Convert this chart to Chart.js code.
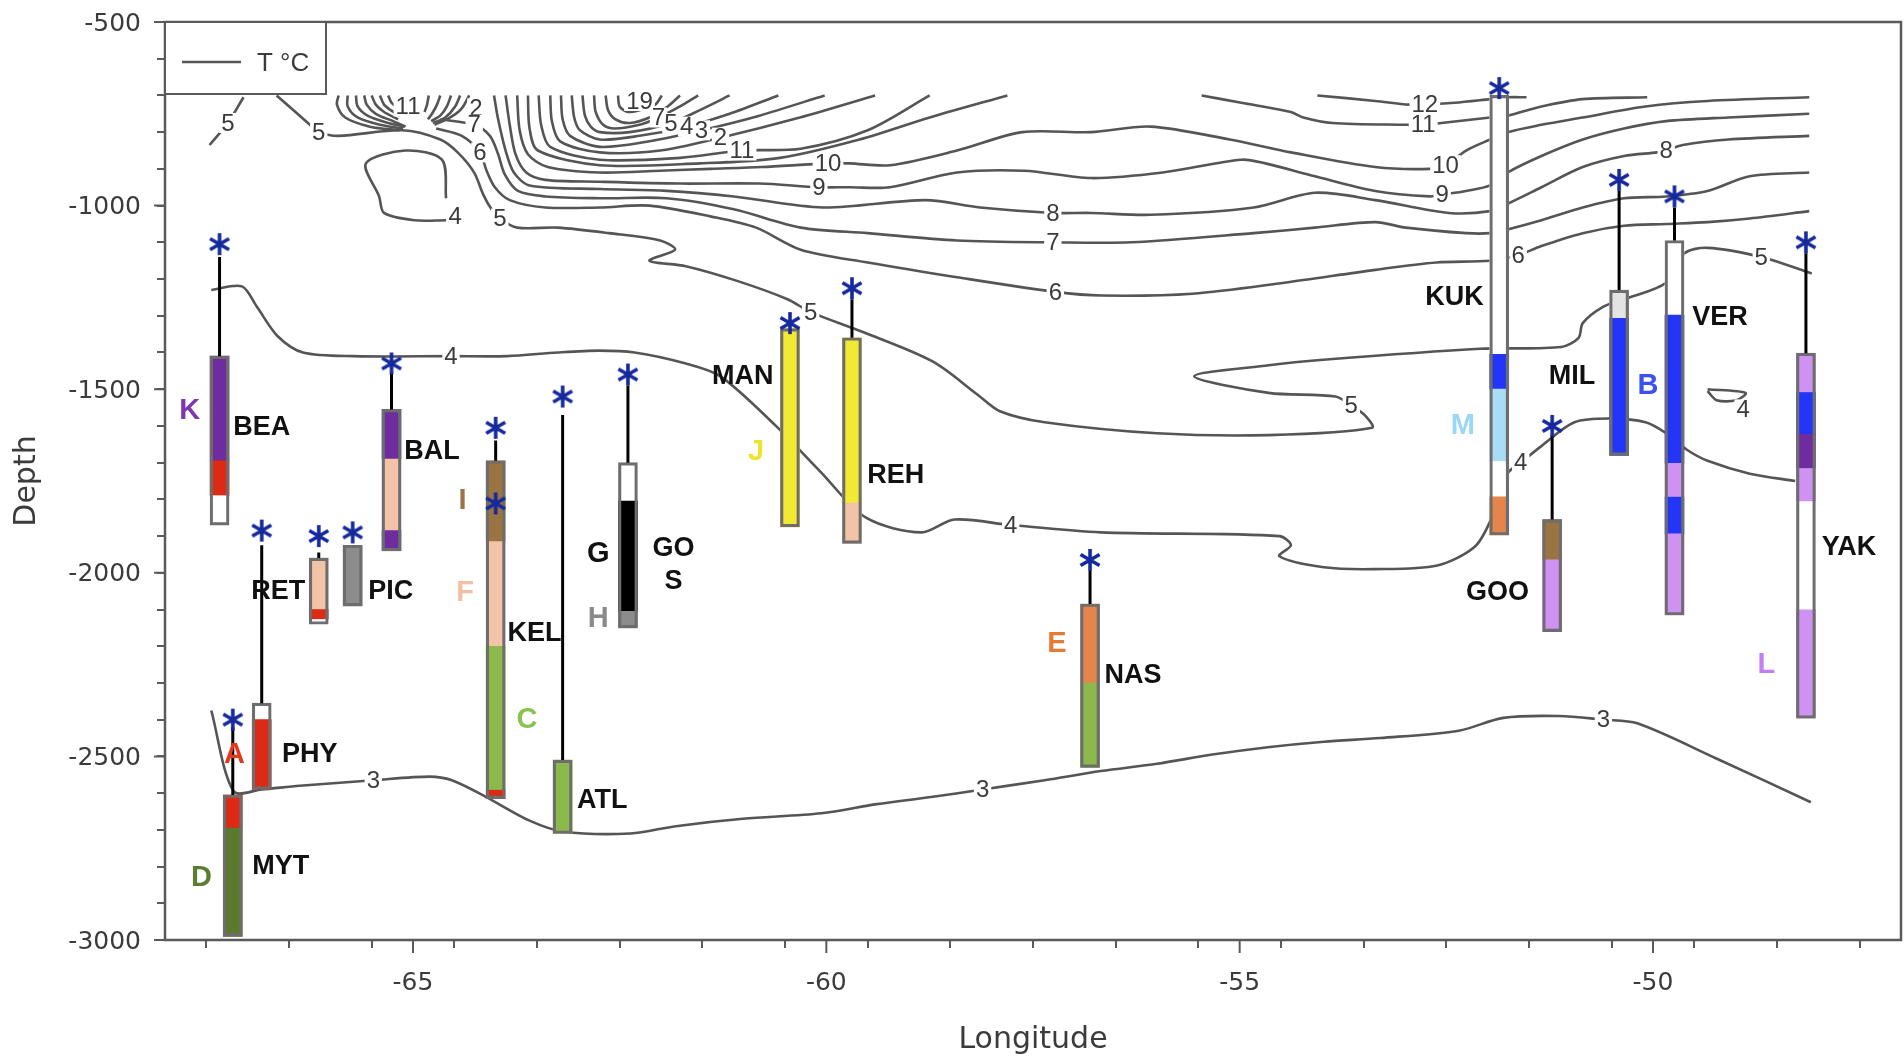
<!DOCTYPE html>
<html>
<head>
<meta charset="utf-8">
<title>Core sites on a temperature section</title>
<script src="https://cdn.jsdelivr.net/npm/chart.js@4.4.1/dist/chart.umd.min.js"></script>
<style>
  html, body { margin: 0; padding: 0; background: #fff; overflow: hidden; }
  #sectionChart { display: block; }
</style>
</head>
<body>
<canvas id="sectionChart" width="1904" height="1061"></canvas>
<script>
// ============================================================
// Temperature section (T °C contours) with core sites
// ============================================================

/* ── Axes ───────────────────────────────────────────────────*/
const LON_RANGE = [-68, -47];
const DEPTH_RANGE = [-3000, -500];
const LON_TICK_LABELS = [-65, -60, -55, -50];
const DEPTH_TICK_LABELS = [-500, -1000, -1500, -2000, -2500, -3000];

/* ── Cores ──────────────────────────────────────────────────*/
const CORE_NAMES = ["BEA", "MYT", "PHY", "RET", "PIC", "BAL", "KEL", "ATL", "GOS", "MAN", "REH", "NAS", "KUK", "GOO", "MIL", "VER", "YAK"];
const CORE_LON = [-67.34, -67.18, -66.83, -66.14, -65.73, -65.26, -64.00, -63.19, -62.40, -60.44, -59.69, -56.81, -51.86, -51.22, -50.41, -49.74, -48.15];
const CORE_STAR = [-1105, -2400, -1885, -1900, -1890, -1430, -1605, -1520, -1460, -1320, -1225, -1965, -680, -1600, -930, -975, -1100];
const CORE_STEM_TOP = [-1140, -2420, -1925, -1945, null, -1455, -1640, -1570, -1490, null, -1255, -1995, null, -1625, -960, -1005, -1130];
const EXTRA_STARS = [[-64.00, -1811]];

// [group, top depth, bottom depth]; group "0" = no assignment, "x" = light grey
const CORE_SEGMENTS = [
  [["K", -1410, -1695], ["A", -1695, -1790], ["0", -1790, -1870]],
  [["A", -2605, -2695], ["D", -2695, -2990]],
  [["0", -2355, -2400], ["A", -2400, -2590]],
  [["F", -1960, -2100], ["A", -2100, -2127], ["0", -2127, -2140]],
  [["H", -1925, -2090]],
  [["K", -1555, -1690], ["F", -1690, -1885], ["K", -1885, -1940]],
  [["I", -1695, -1915], ["F", -1915, -2200], ["C", -2200, -2592], ["A", -2592, -2615]],
  [["C", -2510, -2710]],
  [["0", -1700, -1805], ["G", -1805, -2105], ["H", -2105, -2150]],
  [["J", -1335, -1875]],
  [["J", -1360, -1810], ["F", -1810, -1920]],
  [["E", -2085, -2300], ["C", -2300, -2530]],
  [["0", -700, -1405], ["B", -1405, -1500], ["M", -1500, -1697], ["0", -1697, -1793], ["E", -1793, -1897]],
  [["I", -1855, -1965], ["L", -1965, -2160]],
  [["x", -1230, -1307], ["B", -1307, -1680]],
  [["0", -1095, -1298], ["B", -1298, -1702], ["L", -1702, -1794], ["B", -1794, -1894], ["L", -1894, -2115]],
  [["L", -1402, -1509], ["B", -1509, -1623], ["K", -1623, -1716], ["L", -1716, -1806], ["0", -1806, -2101], ["L", -2101, -2396]]
];

const CORE_LABEL_TEXT = ["BEA", "MYT", "PHY", "RET", "PIC", "BAL", "KEL", "ATL", "GO\nS", "MAN", "REH", "NAS", "KUK", "GOO", "MIL", "VER", "YAK"];
const CORE_LABEL_AT = [[-66.83, -1605], [-66.60, -2800], [-66.25, -2495], [-66.63, -2050], [-65.27, -2050], [-64.77, -1670], [-63.53, -2165], [-62.71, -2620], [-61.85, -1980], [-61.01, -1465], [-59.16, -1735], [-56.29, -2280], [-52.40, -1250], [-51.88, -2055], [-50.98, -1465], [-49.19, -1305], [-47.63, -1930]];

const GROUP_LABELS = [["K", -67.70, -1560], ["A", -67.16, -2495], ["D", -67.56, -2830], ["I", -64.40, -1805], ["F", -64.37, -2055], ["C", -63.62, -2400], ["G", -62.76, -1950], ["H", -62.76, -2125], ["J", -60.85, -1670], ["E", -57.21, -2195], ["M", -52.30, -1600], ["B", -50.06, -1490], ["L", -48.63, -2250]];

/* ── Temperature contours [lon, depth] ──────────────────────*/
const T3 = [[-67.44, -2375], [-67.17, -2595], [-66.83, -2590], [-66.37, -2580], [-65.48, -2565], [-64.80, -2555], [-64.53, -2565], [-64.12, -2610], [-63.59, -2675], [-63.18, -2705], [-62.37, -2710], [-61.82, -2690], [-61.01, -2670], [-60.06, -2655], [-59.39, -2630], [-58.71, -2610], [-58.11, -2590], [-57.36, -2565], [-56.68, -2540], [-56.00, -2520], [-55.33, -2495], [-54.66, -2475], [-53.98, -2460], [-53.30, -2450], [-52.35, -2430], [-51.81, -2395], [-51.14, -2390], [-50.60, -2400], [-50.19, -2410], [-49.24, -2505], [-48.09, -2625]];
const T4 = [[-67.44, -1230], [-67.07, -1220], [-66.89, -1275], [-66.64, -1355], [-66.33, -1400], [-65.71, -1410], [-64.54, -1410], [-63.86, -1410], [-63.25, -1400], [-62.75, -1395], [-62.32, -1400], [-61.70, -1430], [-61.28, -1465], [-60.61, -1600], [-60.07, -1725], [-59.52, -1850], [-58.85, -1890], [-58.45, -1855], [-57.77, -1870], [-56.68, -1890], [-54.52, -1900], [-54.38, -1925], [-54.52, -1955], [-53.98, -1985], [-53.37, -1990], [-52.61, -1980], [-52.16, -1930], [-51.96, -1855], [-51.76, -1730], [-51.60, -1700], [-51.35, -1655], [-50.95, -1590], [-50.50, -1580], [-50.09, -1590], [-49.84, -1620], [-49.59, -1665], [-49.34, -1695], [-48.83, -1730], [-48.28, -1750]];
const T4_WEST_LOOP = [[-64.60, -980], [-64.65, -875], [-65.09, -850], [-65.57, -885], [-65.41, -975], [-65.35, -1020], [-64.98, -1040], [-64.60, -1040]];
const T4_EAST_LOOP = [[-49.34, -1500], [-48.88, -1510], [-48.99, -1530], [-49.23, -1530], [-49.34, -1505]];
const T5 = [[-66.65, -700], [-66.22, -785], [-66.14, -800], [-65.90, -810], [-65.13, -795], [-64.67, -820], [-64.46, -855], [-64.26, -910], [-64.15, -970], [-64.05, -1010], [-63.95, -1035], [-63.74, -1060], [-63.25, -1060], [-62.63, -1075], [-62.01, -1095], [-61.83, -1120], [-62.14, -1150], [-61.70, -1165], [-61.08, -1205], [-60.47, -1255], [-60.19, -1290], [-59.55, -1345], [-58.71, -1425], [-58.17, -1515], [-57.90, -1560], [-57.36, -1590], [-56.00, -1620], [-54.65, -1625], [-53.40, -1605], [-53.49, -1570], [-53.65, -1545], [-53.84, -1520], [-54.65, -1510], [-55.55, -1465], [-54.65, -1435], [-53.99, -1420], [-52.09, -1390], [-51.11, -1385], [-50.90, -1360], [-50.85, -1320], [-50.60, -1275], [-50.35, -1255], [-49.84, -1210], [-49.62, -1130], [-49.34, -1115], [-48.69, -1140], [-48.08, -1185]];
const T5_WEST = [[-67.46, -835], [-67.24, -775], [-67.05, -705]];
const T6 = [[-64.72, -790], [-64.41, -810], [-64.19, -855], [-64.11, -905], [-64.01, -950], [-63.83, -985], [-63.40, -1005], [-62.74, -1005], [-62.14, -1000], [-61.39, -1030], [-60.85, -1060], [-60.31, -1120], [-59.50, -1155], [-58.42, -1195], [-57.23, -1235], [-56.67, -1245], [-55.57, -1240], [-54.46, -1210], [-53.36, -1175], [-52.62, -1155], [-51.97, -1150], [-51.63, -1135], [-51.35, -1110], [-50.85, -1075], [-50.35, -1055], [-49.84, -1050], [-49.34, -1045], [-48.83, -1035], [-48.11, -1015]];
const T7 = [[-64.67, -765], [-64.26, -780], [-64.07, -810], [-63.97, -860], [-63.89, -915], [-63.73, -960], [-63.40, -975], [-62.74, -980], [-61.93, -980], [-61.12, -1010], [-60.31, -1060], [-59.50, -1075], [-58.42, -1095], [-57.26, -1100], [-56.31, -1100], [-54.83, -1075], [-54.09, -1060], [-53.36, -1045], [-52.99, -1060], [-52.26, -1075], [-51.97, -1075], [-51.76, -1065], [-51.35, -1040], [-50.85, -1005], [-50.35, -980], [-49.84, -975], [-49.34, -960], [-48.83, -920], [-48.11, -910]];
const T8 = [[-64.02, -700], [-63.97, -765], [-63.88, -850], [-63.78, -910], [-63.59, -945], [-62.74, -955], [-61.93, -960], [-61.12, -975], [-60.04, -1005], [-58.80, -985], [-58.14, -1005], [-57.26, -1020], [-56.80, -1020], [-56.08, -1025], [-54.83, -1005], [-54.09, -965], [-53.36, -985], [-52.47, -1020], [-51.97, -1015], [-51.76, -995], [-51.35, -950], [-50.85, -895], [-50.35, -865], [-49.95, -855], [-49.84, -850], [-49.64, -835], [-49.09, -820], [-48.11, -810]];
const T9 = [[-63.88, -700], [-63.83, -780], [-63.76, -860], [-63.63, -910], [-63.40, -930], [-62.74, -935], [-61.77, -940], [-60.81, -940], [-60.09, -950], [-59.72, -950], [-59.23, -950], [-58.42, -910], [-57.61, -905], [-56.80, -925], [-55.93, -910], [-54.98, -875], [-54.69, -885], [-54.09, -920], [-53.36, -960], [-52.70, -975], [-52.55, -970], [-52.26, -960], [-51.97, -945], [-51.76, -910], [-51.35, -865], [-50.85, -820], [-50.35, -790], [-49.84, -770], [-49.09, -760], [-48.11, -750]];
const T10 = [[-63.74, -700], [-63.71, -795], [-63.61, -860], [-63.37, -895], [-62.74, -910], [-62.01, -905], [-61.40, -900], [-60.78, -895], [-59.98, -885], [-59.72, -885], [-59.23, -890], [-58.42, -850], [-57.63, -800], [-56.80, -800], [-56.08, -785], [-55.12, -820], [-54.38, -855], [-53.36, -895], [-52.70, -900], [-52.51, -890], [-52.26, -850], [-51.97, -820], [-51.76, -800], [-51.35, -780], [-50.85, -760], [-50.09, -730], [-49.34, -715], [-48.11, -705]];
const T11_EAST = [[-55.46, -700], [-54.98, -720], [-54.38, -745], [-54.23, -760], [-53.88, -775], [-52.97, -780], [-52.78, -780], [-52.56, -775], [-51.97, -760], [-51.76, -755], [-51.35, -730], [-50.85, -710], [-50.07, -705]];
const T12_EAST = [[-54.06, -700], [-53.36, -715], [-52.95, -725], [-52.76, -725], [-52.40, -720], [-51.97, -710], [-51.76, -705], [-51.53, -705]];

// warm core near the surface: nested U-shaped isotherms (11 up to 19)
const FAN_CORE = [
  [[-63.61, -700], [-63.59, -790], [-63.49, -850], [-62.74, -890], [-61.53, -885], [-60.56, -870], [-59.60, -820], [-58.75, -760], [-57.81, -700]],
  [[-63.48, -700], [-63.45, -780], [-63.34, -840], [-62.74, -875], [-61.77, -870], [-61.02, -850], [-60.31, -845], [-59.50, -795], [-58.75, -700]],
  [[-63.34, -700], [-63.32, -770], [-63.22, -825], [-62.74, -855], [-62.01, -850], [-61.28, -815], [-60.32, -760], [-59.41, -700]],
  [[-63.21, -700], [-63.19, -765], [-63.10, -810], [-62.74, -840], [-62.14, -825], [-61.51, -795], [-60.81, -755], [-60.02, -700]],
  [[-63.08, -700], [-63.05, -760], [-62.98, -795], [-62.74, -820], [-62.26, -810], [-61.69, -785], [-61.17, -750], [-60.58, -700]],
  [[-62.95, -700], [-62.92, -755], [-62.85, -785], [-62.74, -800], [-62.38, -800], [-61.88, -775], [-61.53, -740], [-61.17, -700]],
  [[-62.81, -700], [-62.79, -745], [-62.70, -780], [-62.56, -790], [-62.26, -780], [-62.03, -760], [-61.77, -730], [-61.55, -700]],
  [[-62.67, -700], [-62.64, -740], [-62.55, -765], [-62.38, -775], [-62.14, -760], [-61.92, -730], [-61.77, -700]],
  [[-62.52, -700], [-62.50, -730], [-62.40, -745], [-62.26, -740], [-62.07, -725], [-61.99, -700]]
];
// small bundles in the west
const FAN_WEST_A = [
  [[-65.90, -700], [-65.92, -725], [-65.82, -760], [-65.52, -785], [-65.16, -795]],
  [[-65.79, -700], [-65.79, -730], [-65.67, -760], [-65.40, -780], [-65.12, -790]],
  [[-65.69, -700], [-65.67, -730], [-65.55, -755], [-65.30, -775], [-65.10, -785]],
  [[-65.59, -700], [-65.56, -725], [-65.45, -750], [-65.24, -770], [-65.09, -785]],
  [[-65.50, -700], [-65.45, -725], [-65.35, -745], [-65.18, -765]],
  [[-65.40, -700], [-65.35, -725], [-65.27, -740], [-65.16, -755]],
  [[-65.30, -700], [-65.26, -720], [-65.18, -735]]
];
const FAN_WEST_B = [
  [[-64.32, -700], [-64.41, -735], [-64.55, -760], [-64.74, -780]],
  [[-64.43, -700], [-64.49, -730], [-64.61, -760], [-64.76, -775]],
  [[-64.54, -700], [-64.59, -730], [-64.67, -755], [-64.78, -770]],
  [[-64.67, -700], [-64.71, -725], [-64.77, -750], [-64.82, -765]],
  [[-64.81, -700], [-64.83, -725], [-64.86, -745]]
];

const CONTOUR_LABELS = [
  ["5", -67.24, -775], ["5", -66.14, -800], ["11", -65.06, -730], ["2", -64.24, -735], ["7", -64.26, -780], ["6", -64.19, -855],
  ["4", -64.49, -1030], ["5", -63.95, -1035], ["19", -62.26, -715], ["7", -62.03, -760], ["5", -61.88, -775], ["4", -61.69, -785],
  ["3", -61.51, -795], ["2", -61.28, -815], ["11", -61.02, -850], ["10", -59.98, -885], ["9", -60.09, -950], ["8", -57.26, -1020],
  ["7", -57.26, -1100], ["6", -57.23, -1235], ["5", -60.19, -1290], ["4", -64.54, -1410], ["4", -57.77, -1870], ["5", -53.65, -1545],
  ["12", -52.76, -725], ["11", -52.78, -780], ["10", -52.51, -890], ["9", -52.55, -970], ["6", -51.63, -1135], ["8", -49.84, -850],
  ["5", -48.69, -1140], ["4", -51.60, -1700], ["4", -48.91, -1555], ["3", -65.48, -2565], ["3", -58.11, -2590], ["3", -50.60, -2400]
];

/* ── Styles ─────────────────────────────────────────────────*/
const GROUP_COLORS = {
  A: "#dd2a15", B: "#2336f8", C: "#8cb94b", D: "#5a7b2e", E: "#e6854b", F: "#f3c3a8", G: "#000000",
  H: "#8c8c8c", I: "#9b7443", J: "#f2e933", K: "#6f2c9e", L: "#cf91f2", M: "#a9dcf5", "0": "#ffffff", x: "#e4e4e4"
};
const GROUP_TEXT_COLORS = {
  A: "#e2391f", B: "#3b52f0", C: "#8cc152", D: "#5b7d30", E: "#e57a34", F: "#f2bfa5", G: "#111111",
  H: "#8a8a8a", I: "#9a7447", J: "#eee42b", K: "#7b38b2", L: "#c27ff3", M: "#9ad6f5"
};
const INK = "#3b3b3b";
const LINE_GREY = "#555555";
const SANS = '"Liberation Sans", Arial, sans-serif';
const WIDE = '"DejaVu Sans", Verdana, sans-serif';

/* ── Asterisk marker ────────────────────────────────────────*/
function makeAsterisk() {
  const c = document.createElement("canvas");
  c.width = 26; c.height = 26;
  const g = c.getContext("2d");
  g.strokeStyle = "#15299c";
  g.lineWidth = 3.6;
  g.beginPath();
  [90, 30, 150].forEach(a => {
    const r = a * Math.PI / 180, dx = Math.cos(r) * 11, dy = Math.sin(r) * 11;
    g.moveTo(13 - dx, 13 - dy);
    g.lineTo(13 + dx, 13 + dy);
  });
  g.stroke();
  return c;
}

/* ── Datasets ───────────────────────────────────────────────*/
const contourLines = [T3, T4, T4_WEST_LOOP, T4_EAST_LOOP, T5, T5_WEST, T6, T7, T8, T9, T10, T11_EAST, T12_EAST, ...FAN_CORE, ...FAN_WEST_A, ...FAN_WEST_B];

const contourSets = contourLines.map((pts, i) => ({
  type: "line",
  data: pts.map(([lon, d]) => ({ x: lon, y: d })),
  borderColor: LINE_GREY,
  borderWidth: 2.6,
  pointRadius: 0,
  tension: 0.3,
  fill: false,
  order: 10,
  drawLabelsAfter: i === 0
}));

const segData = [], segColors = [];
CORE_SEGMENTS.forEach((segs, i) => {
  segs.forEach(([grp, top, bottom]) => {
    segData.push({ x: CORE_LON[i], y: [bottom, top] });
    segColors.push(GROUP_COLORS[grp]);
  });
});

const outlineData = CORE_SEGMENTS.map((segs, i) => ({ x: CORE_LON[i], y: [segs[segs.length - 1][2], segs[0][1]] }));

const stemData = [];
CORE_STEM_TOP.forEach((top, i) => {
  if (top === null) return;
  stemData.push({ x: CORE_LON[i], y: top }, { x: CORE_LON[i], y: CORE_SEGMENTS[i][0][1] }, { x: CORE_LON[i], y: null });
});

const starData = CORE_STAR.map((d, i) => ({ x: CORE_LON[i], y: d }))
  .concat(EXTRA_STARS.map(([lon, d]) => ({ x: lon, y: d })));

/* ── Drawing helpers (plugin) ───────────────────────────────*/
const sectionPlugin = {
  id: "sectionDecor",
  afterDatasetDraw(chart, args) {
    if (!chart.data.datasets[args.index].drawLabelsAfter) return;
    const { ctx, scales: { x, y } } = chart;
    ctx.save();
    ctx.font = "24px " + SANS;
    ctx.textAlign = "center";
    ctx.textBaseline = "middle";
    CONTOUR_LABELS.forEach(([t, lon, d]) => {
      const px = x.getPixelForValue(lon), py = y.getPixelForValue(d);
      const w = ctx.measureText(t).width + 4;
      ctx.fillStyle = "#fff";
      ctx.fillRect(px - w / 2, py - 10, w, 20);
      ctx.fillStyle = INK;
      ctx.fillText(t, px, py + 1);
    });
    ctx.restore();
  },
  afterDatasetsDraw(chart) {
    const { ctx, chartArea: a, scales: { x, y } } = chart;
    ctx.save();

    // core names
    ctx.font = "bold 27px " + SANS;
    ctx.fillStyle = "#111";
    ctx.textAlign = "center";
    ctx.textBaseline = "middle";
    CORE_LABEL_TEXT.forEach((t, i) => {
      const px = x.getPixelForValue(CORE_LABEL_AT[i][0]);
      const py = y.getPixelForValue(CORE_LABEL_AT[i][1]);
      const lines = t.split("\n");
      lines.forEach((ln, k) => ctx.fillText(ln, px, py + (k - (lines.length - 1) / 2) * 33));
    });

    // group letters
    ctx.font = "bold 29px " + SANS;
    GROUP_LABELS.forEach(([g, lon, d]) => {
      ctx.fillStyle = GROUP_TEXT_COLORS[g];
      ctx.fillText(g, x.getPixelForValue(lon), y.getPixelForValue(d));
    });

    // frame
    ctx.strokeStyle = "#5a5a5a";
    ctx.lineWidth = 2.5;
    ctx.strokeRect(a.left, a.top, a.right - a.left, a.bottom - a.top);

    // longer major ticks
    ctx.lineWidth = 2;
    ctx.beginPath();
    LON_TICK_LABELS.forEach(v => {
      const px = x.getPixelForValue(v);
      ctx.moveTo(px, a.bottom); ctx.lineTo(px, a.bottom + 13);
    });
    DEPTH_TICK_LABELS.forEach(v => {
      const py = y.getPixelForValue(v);
      ctx.moveTo(a.left, py); ctx.lineTo(a.left - 11, py);
    });
    ctx.stroke();

    // legend box
    ctx.fillStyle = "#fff";
    ctx.fillRect(a.left, a.top, 161, 72);
    ctx.strokeStyle = "#5a5a5a";
    ctx.lineWidth = 2;
    ctx.strokeRect(a.left, a.top, 161, 72);
    ctx.strokeStyle = LINE_GREY;
    ctx.lineWidth = 2.6;
    ctx.beginPath();
    ctx.moveTo(a.left + 17, a.top + 40); ctx.lineTo(a.left + 76, a.top + 40);
    ctx.stroke();
    ctx.fillStyle = INK;
    ctx.font = "26px " + SANS;
    ctx.textAlign = "left";
    ctx.fillText("T \u00B0C", a.left + 92, a.top + 42);

    ctx.restore();
  }
};

/* ── Chart ──────────────────────────────────────────────────*/
const tickFont = { family: WIDE, size: 25 };

new Chart(document.getElementById("sectionChart"), {
  type: "line",
  data: {
    datasets: [
      { type: "scatter", data: starData, pointStyle: makeAsterisk(), pointRadius: 11, showLine: false, order: 1 },
      { type: "line", data: stemData, borderColor: "#000", borderWidth: 3, pointRadius: 0, tension: 0, spanGaps: false, order: 2 },
      { type: "bar", data: outlineData, grouped: false, barThickness: 19, backgroundColor: "rgba(0,0,0,0)", borderColor: "#6d6d6d", borderWidth: 2.5, borderSkipped: false, order: 3 },
      { type: "bar", data: segData, grouped: false, barThickness: 19, backgroundColor: segColors, borderWidth: 0, order: 4 },
      ...contourSets
    ]
  },
  options: {
    responsive: false,
    devicePixelRatio: 1,
    animation: false,
    events: [],
    layout: { autoPadding: false, padding: { top: 22, right: 3, left: 0, bottom: 0 } },
    plugins: { legend: { display: false }, tooltip: { enabled: false } },
    scales: {
      x: {
        type: "linear", min: LON_RANGE[0], max: LON_RANGE[1], offset: false,
        afterFit: s => { s.height = 121; s.paddingLeft = 0; s.paddingRight = 0; },
        grid: { drawOnChartArea: false, tickLength: 8, color: "#5a5a5a", lineWidth: 2 },
        border: { display: false },
        ticks: {
          stepSize: 1, autoSkip: false, maxRotation: 0, minRotation: 0, padding: 20,
          color: INK, font: tickFont,
          callback: v => LON_TICK_LABELS.includes(Math.round(v)) && Math.abs(v - Math.round(v)) < 1e-6 ? String(Math.round(v)) : ""
        },
        title: { display: true, text: "Longitude", color: INK, font: { family: WIDE, size: 30 }, padding: { top: 0, bottom: 3 } }
      },
      y: {
        type: "linear", min: DEPTH_RANGE[0], max: DEPTH_RANGE[1],
        afterFit: s => { s.width = 165; s.paddingTop = 0; s.paddingBottom = 0; },
        grid: { drawOnChartArea: false, tickLength: 8, color: "#5a5a5a", lineWidth: 2 },
        border: { display: false },
        ticks: {
          stepSize: 100, autoSkip: false, padding: 16, labelOffset: 2,
          color: INK, font: tickFont,
          callback: v => DEPTH_TICK_LABELS.includes(Math.round(v)) ? String(Math.round(v)) : ""
        },
        title: { display: true, text: "Depth", color: INK, font: { family: WIDE, size: 30 }, padding: { top: 9, bottom: 0 } }
      }
    }
  },
  plugins: [sectionPlugin]
});
</script>
</body>
</html>
